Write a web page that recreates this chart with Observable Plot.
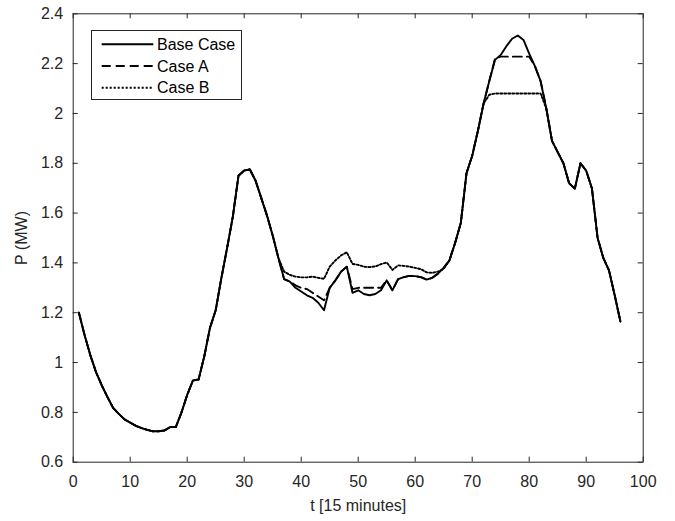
<!DOCTYPE html>
<html><head><meta charset="utf-8">
<script src="https://cdn.jsdelivr.net/npm/d3@7"></script>
<script src="https://cdn.jsdelivr.net/npm/@observablehq/plot@0.6"></script>
<style>
body{margin:0;background:#fff;}
#wrap{position:relative;width:675px;height:521px;font-family:"Liberation Sans",Arial,sans-serif;}
#legend{position:absolute;left:91px;top:30px;}
</style></head><body><div id="wrap"></div>
<script>
const t = [1,2,3,4,5,6,7,8,9,10,11,12,13,14,15,16,17,18,19,20,21,22,23,24,25,26,27,28,29,30,31,32,33,34,35,36,37,38,39,40,41,42,43,44,45,46,47,48,49,50,51,52,53,54,55,56,57,58,59,60,61,62,63,64,65,66,67,68,69,70,71,72,73,74,75,76,77,78,79,80,81,82,83,84,85,86,87,88,89,90,91,92,93,94,95,96];
const baseCase = [1.20,1.11,1.03,0.962,0.909,0.862,0.818,0.794,0.772,0.759,0.746,0.737,0.730,0.724,0.724,0.727,0.741,0.741,0.80,0.87,0.928,0.932,1.025,1.14,1.21,1.34,1.46,1.585,1.75,1.771,1.775,1.73,1.66,1.59,1.51,1.42,1.335,1.325,1.30,1.285,1.27,1.26,1.24,1.21,1.30,1.33,1.365,1.385,1.28,1.29,1.275,1.27,1.275,1.29,1.33,1.29,1.335,1.343,1.348,1.347,1.343,1.333,1.34,1.357,1.38,1.41,1.48,1.56,1.76,1.83,1.93,2.04,2.13,2.215,2.235,2.27,2.30,2.313,2.295,2.24,2.19,2.13,2.02,1.89,1.845,1.80,1.72,1.698,1.80,1.77,1.70,1.50,1.42,1.37,1.27,1.165];
const caseA = [1.20,1.11,1.03,0.962,0.909,0.862,0.818,0.794,0.772,0.759,0.746,0.737,0.730,0.724,0.724,0.727,0.741,0.741,0.80,0.87,0.928,0.932,1.025,1.14,1.21,1.34,1.46,1.585,1.75,1.771,1.775,1.73,1.66,1.59,1.51,1.42,1.335,1.325,1.31,1.30,1.295,1.28,1.265,1.25,1.30,1.33,1.365,1.385,1.295,1.30,1.30,1.30,1.30,1.30,1.33,1.29,1.335,1.343,1.348,1.347,1.343,1.333,1.34,1.357,1.38,1.41,1.48,1.56,1.76,1.83,1.93,2.04,2.13,2.22,2.228,2.228,2.228,2.228,2.228,2.228,2.19,2.13,2.02,1.89,1.845,1.80,1.72,1.698,1.80,1.77,1.70,1.50,1.42,1.37,1.27,1.165];
const caseB = [1.20,1.11,1.03,0.962,0.909,0.862,0.818,0.794,0.772,0.759,0.746,0.737,0.730,0.724,0.724,0.727,0.741,0.741,0.80,0.87,0.928,0.932,1.025,1.14,1.21,1.34,1.46,1.585,1.75,1.771,1.775,1.73,1.66,1.59,1.51,1.42,1.365,1.352,1.345,1.342,1.342,1.345,1.34,1.336,1.385,1.41,1.43,1.443,1.396,1.392,1.385,1.383,1.386,1.395,1.402,1.372,1.39,1.388,1.385,1.38,1.375,1.362,1.36,1.365,1.377,1.41,1.48,1.56,1.76,1.83,1.93,2.04,2.075,2.08,2.08,2.08,2.08,2.08,2.08,2.08,2.08,2.08,2.02,1.89,1.845,1.80,1.72,1.698,1.80,1.77,1.70,1.50,1.42,1.37,1.27,1.165];
const seriesNames = ["Base Case","Case A","Case B"];
const seriesDash = ["none","9,5","2,2"];
const xTicks = [0,10,20,30,40,50,60,70,80,90,100];
const yTicks = [0.6,0.8,1.0,1.2,1.4,1.6,1.8,2.0,2.2,2.4];
const xLabel = "t [15 minutes]";
const yLabel = "P (MW)";

const W = 675, H = 521, mL = 72.7, mR = 32.3, mT = 13.3, mB = 59.3;
const pw = W - mL - mR, ph = H - mT - mB;
const axisColor = "#262626";
const font = "'Liberation Sans', Arial, sans-serif";
const seriesValues = [baseCase, caseA, caseB];

const lineMarks = seriesValues.map((vals, i) =>
  Plot.line(t.map((tt, j) => ({t: tt, p: vals[j]})), {
    x: "t", y: "p", stroke: "#000", strokeWidth: 1.9,
    strokeDasharray: seriesDash[i], strokeLinejoin: "round"
  })
).reverse();

const chart = Plot.plot({
  width: W, height: H,
  marginLeft: mL, marginRight: mR, marginTop: mT, marginBottom: mB,
  style: {fontFamily: font, fontSize: "16px", color: axisColor, background: "#fff"},
  x: {domain: [0, 100]},
  y: {domain: [0.6, 2.4]},
  marks: [
    ...lineMarks,
    Plot.frame({stroke: axisColor, strokeWidth: 1}),
    Plot.tickX(xTicks, {x: d => d, insetTop: ph - 5, stroke: axisColor}),
    Plot.tickX(xTicks, {x: d => d, insetBottom: ph - 5, stroke: axisColor}),
    Plot.tickY(yTicks, {y: d => d, insetRight: pw - 5, stroke: axisColor}),
    Plot.tickY(yTicks, {y: d => d, insetLeft: pw - 5, stroke: axisColor}),
    Plot.axisX({ticks: xTicks, tickSize: 0, tickPadding: 13, tickFormat: d => String(d),
      label: xLabel, labelAnchor: "center", labelArrow: "none", labelOffset: 49}),
    Plot.axisY({ticks: yTicks, tickSize: 0, tickPadding: 10, tickFormat: d => String(+d.toFixed(1)),
      label: yLabel, labelAnchor: "center", labelArrow: "none", labelOffset: 58})
  ]
});

const wrap = document.getElementById("wrap");
wrap.appendChild(chart);

// legend overlay (inside plot, top-left)
const lg = d3.select(wrap).append("svg").attr("id", "legend")
  .attr("width", 152).attr("height", 72);
lg.append("rect").attr("x", 0.5).attr("y", 0.5).attr("width", 150).attr("height", 69)
  .attr("fill", "#fff").attr("stroke", axisColor);
const rowY = [14.3, 36, 57.7];
seriesNames.forEach((name, i) => {
  lg.append("line").attr("x1", 10.7).attr("x2", 62.3).attr("y1", rowY[i]).attr("y2", rowY[i])
    .attr("stroke", "#000").attr("stroke-width", 1.9).attr("stroke-dasharray", seriesDash[i]);
  lg.append("text").attr("x", 66).attr("y", rowY[i]).attr("dy", "0.35em")
    .attr("font-family", font).attr("font-size", 16).attr("fill", "#000").text(name);
});
</script>
</body></html>
